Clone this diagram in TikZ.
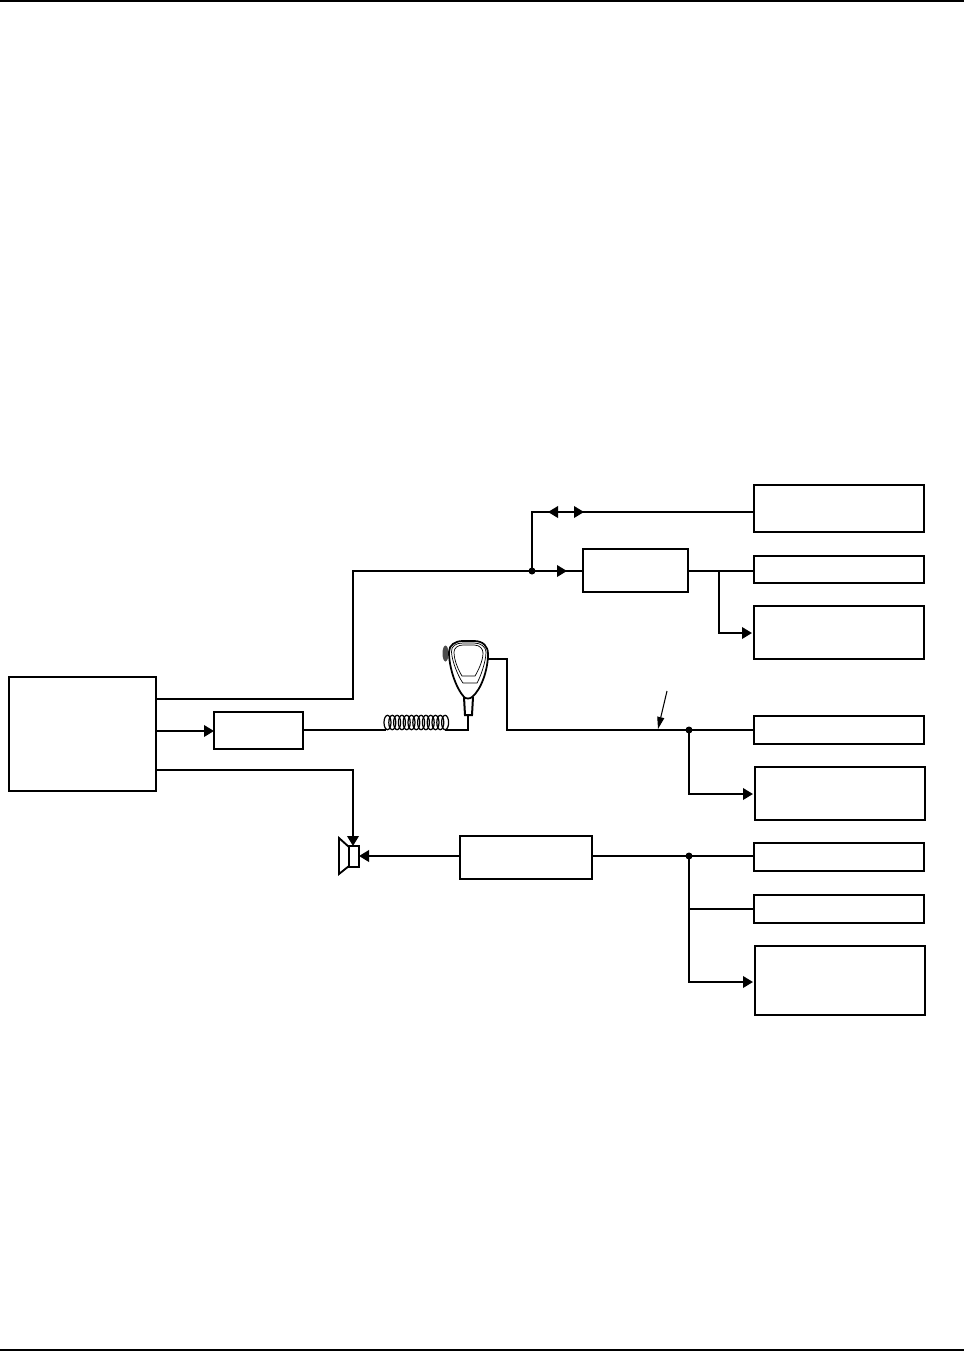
\documentclass[tikz,border=0pt]{standalone}
\usepackage{tikz}
\usetikzlibrary{arrows.meta, positioning}

\begin{document}
\begin{tikzpicture}[
    x=0.2mm, y=-0.2mm,
    unit/.style={rectangle, draw=black, line width=1.05pt, inner sep=0pt, outer sep=0pt},
    panel/.style={unit, minimum width=3.4cm},
    wire/.style={line width=1.14pt},
    arrow/.style={wire, -{Triangle[length=2mm, width=2.3mm]}},
    feed/.style={arrow, shorten >=0.4mm},
    leader/.style={line width=0.6pt, -{Triangle[length=2.4mm, width=1.4mm]}},
    dot/.style={circle, fill=black, inner sep=0pt, minimum size=1.4mm},
    coil/.style={line width=0.7pt}
]
\useasboundingbox (0,0) rectangle (964,1352);

% Page rules
\coordinate (topl) at (0,1);
\coordinate (topr) at (964,1);
\coordinate (botl) at (0,1350);
\coordinate (botr) at (964,1350);
\draw[wire] (topl) -- (topr);
\draw[wire] (botl) -- (botr);

% Left column
\node[unit, minimum width=2.94cm, minimum height=2.28cm] (ctrl) at (82.5,734) {};
\node[unit, minimum width=1.78cm, minimum height=0.74cm] (amp) at (258.5,730.5) {};

% Middle column
\node[unit, minimum width=2.1cm, minimum height=0.86cm] (proc) at (635.5,570.5) {};
\node[unit, minimum width=2.64cm, minimum height=0.86cm] (audio) at (526,857.5) {};

% Right column
\node[panel, minimum height=0.94cm] (top) at (839,508.5) {};
\node[panel, minimum height=0.54cm] (sideb) at (839,569.5) {};
\node[panel, minimum height=1.06cm] (sidec) at (839,632.5) {};
\node[panel, minimum height=0.56cm] (sided) at (839,730) {};
\node[panel, minimum height=1.06cm] (sidee) at (840,793.5) {};
\node[panel, minimum height=0.56cm] (sidef) at (839,857) {};
\node[panel, minimum height=0.56cm] (sideg) at (839,909) {};
\node[panel, minimum height=1.38cm] (sideh) at (840,980.5) {};

% Junctions
\node[dot] (jdata) at (532,571) {};
\node[dot] (jmic) at (689,730) {};
\node[dot] (jaudio) at (689,856) {};
\coordinate (jproc) at (719,571);

% Loudspeaker
\draw[unit, fill=white] (349,847) -- (339,838) -- (339,874) -- (349,866) -- cycle;
\node[unit, fill=white, minimum width=0.2cm, minimum height=0.42cm] (spk) at (354,856.5) {};

% Microphone
\fill[black!70] (445.5,653.5) ellipse (3 and 8);
\draw[wire, fill=white] (464,697) -- (465,715) -- (472,715) -- (473,697);
\coordinate (mictail) at (468,715);
\coordinate (micout) at (488,659);
\draw[line width=1pt, fill=white] (449,652) .. controls (449,645) and (455,641) .. (463,641)
    -- (474,641) .. controls (483,641) and (488,646) .. (488,654)
    .. controls (488,670) and (481,690) .. (472,697) .. controls (470,699) and (466,699) .. (464,697)
    .. controls (456,688) and (449,668) .. (449,652) -- cycle;
\draw[line width=0.4pt] (451.5,652) .. controls (451,646) and (456,643) .. (463,643) -- (474,643)
    .. controls (481,643) and (486,647) .. (486,652) .. controls (486,662) and (480,678) .. (477,683)
    -- (463,683) .. controls (459,678) and (452,662) .. (451.5,652) -- cycle;
\draw[line width=0.4pt] (454,652) .. controls (454,648) and (458,645) .. (463,645) -- (474,645)
    .. controls (480,645) and (483,649) .. (483,653) .. controls (483,661) and (478,671) .. (475,676)
    -- (462,676) .. controls (459,671) and (454,661) .. (454,652) -- cycle;

% Coiled cord
\foreach \i in {0,...,12}
    \draw[coil] ({387.5+\i*4.8},722.5) ellipse (3.5 and 7.2);
\coordinate (coilin) at (386,730);
\coordinate (coilout) at (445,730);

% Leader to the microphone line
\coordinate (leadfrom) at (667,691);
\coordinate (leadto) at (658,729);
\draw[leader] (leadfrom) -- (leadto);

% Arrows from the left unit
\coordinate (ctrlup) at (156,699);
\coordinate (ctrldown) at (156,770);
\coordinate (ctrlmid) at (156,731);
\coordinate (spktop) at (353,846);
\draw[wire] (ctrlup) -- ++(197,0) |- (jdata.center);
\draw[arrow] (ctrlmid) -- (amp.west |- ctrlmid);
\draw[arrow] (ctrldown) -| (spktop);
\draw[wire] (amp.east |- coilin) -- (coilin);
\draw[wire] (coilout) -| (mictail);

% Upper branch
\coordinate (topin) at (top.west |- 0,512);
\coordinate (tipleft) at (548,512);
\coordinate (tipright) at (584,512);
\coordinate (tipdata) at (567,571);
\draw[wire] (jdata.center) |- (topin);
\draw[arrow] (topin) -- (tipleft);
\draw[arrow] (jdata.center |- topin) -- (tipright);
\draw[wire] (jdata.center) -- (proc.west |- jdata);
\draw[arrow] (jdata.center) -- (tipdata);
\draw[wire] (proc.east |- jproc) -- (sideb.west |- jproc);
\coordinate (cin) at (sidec.west |- 0,633);
\draw[feed] (jproc) |- (cin);

% Microphone line
\draw[wire] (micout) -- ++(19,0) |- (sided.west);
\coordinate (ein) at (sidee.west |- 0,794);
\draw[feed] (jmic.center) |- (ein);

% Audio line
\draw[arrow] (audio.west |- jaudio) -- (spk.east |- jaudio);
\draw[wire] (audio.east |- jaudio) -- (sidef.west |- jaudio);
\draw[wire] (jaudio.center) |- (sideg.west);
\coordinate (hin) at (sideh.west |- 0,982);
\draw[feed] (jaudio.center) |- (hin);

\end{tikzpicture}
\end{document}
